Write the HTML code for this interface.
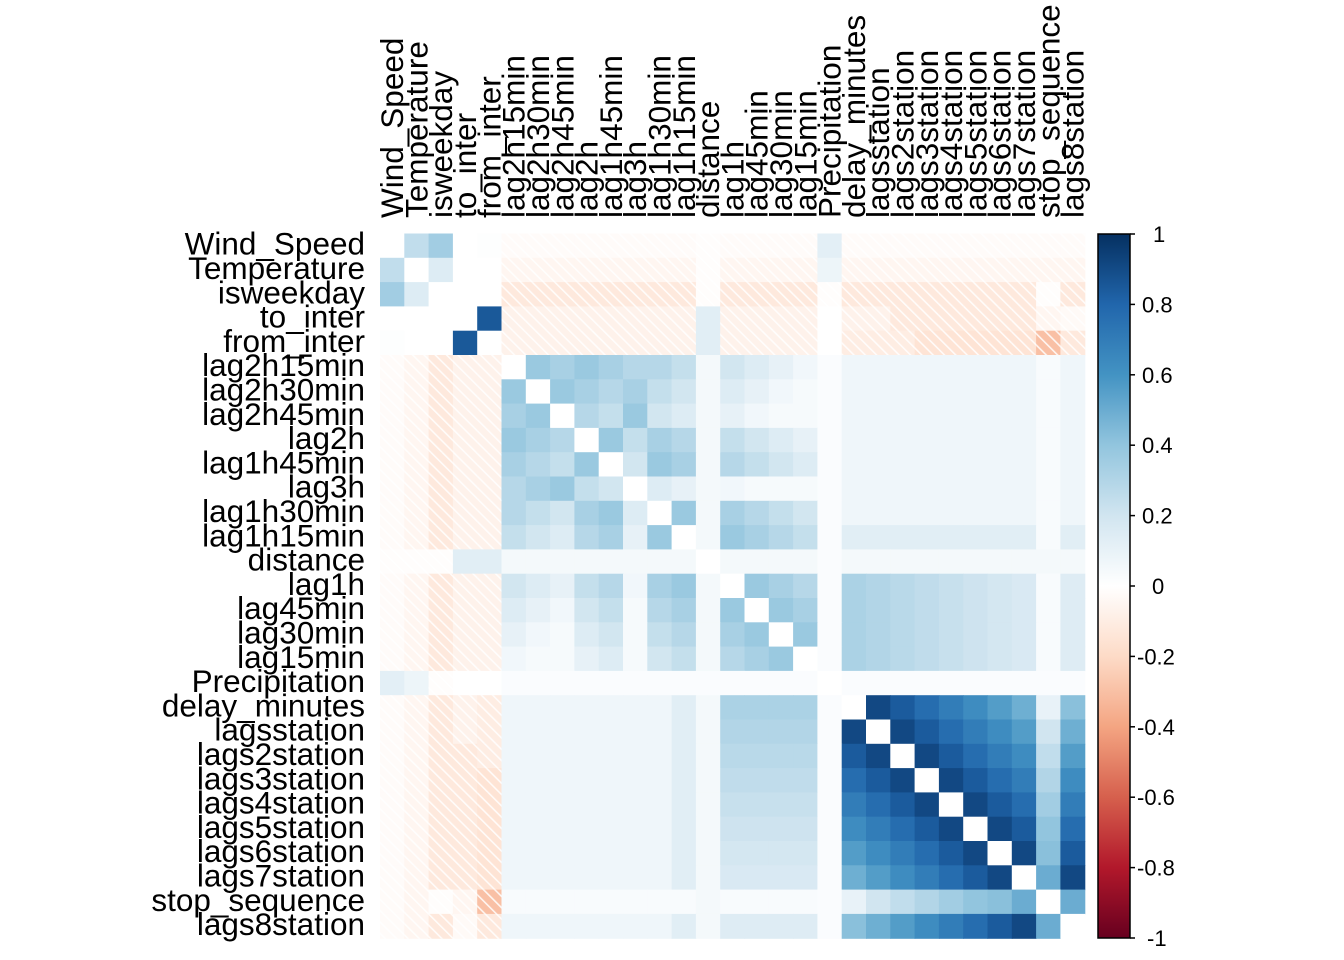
<!DOCTYPE html>
<html><head><meta charset="utf-8"><style>
html,body{margin:0;padding:0;background:#fff;}
svg{display:block;}
text{font-family:"Liberation Sans",Arial,sans-serif;}
</style></head><body>
<svg id="s" width="1344" height="960" xmlns="http://www.w3.org/2000/svg">
<defs>
<pattern id="h" patternUnits="userSpaceOnUse" width="8" height="8" patternTransform="rotate(-45)">
<rect x="0" y="0" width="1.6" height="8" fill="#fff" fill-opacity="0.85"/>
</pattern>
<linearGradient id="cb" x1="0" y1="0" x2="0" y2="1">
<stop offset="0" stop-color="#053061"/><stop offset="0.1" stop-color="#2166AC"/><stop offset="0.2" stop-color="#4393C3"/><stop offset="0.3" stop-color="#92C5DE"/><stop offset="0.4" stop-color="#D1E5F0"/><stop offset="0.5" stop-color="#FFFFFF"/><stop offset="0.6" stop-color="#FDDBC7"/><stop offset="0.7" stop-color="#F4A582"/><stop offset="0.8" stop-color="#D6604D"/><stop offset="0.9" stop-color="#B2182B"/><stop offset="1" stop-color="#67001F"/>
</linearGradient>
</defs>
<g id="g"></g>
<rect x="1098" y="234" width="32" height="704" fill="url(#cb)" stroke="#000" stroke-width="1.5"/>
<g id="cbl" font-size="22"></g>
</svg>
<script>
var names=["Wind_Speed","Temperature","isweekday","to_inter","from_inter","lag2h15min","lag2h30min","lag2h45min","lag2h","lag1h45min","lag3h","lag1h30min","lag1h15min","distance","lag1h","lag45min","lag30min","lag15min","Precipitation","delay_minutes","lagsstation","lags2station","lags3station","lags4station","lags5station","lags6station","lags7station","stop_sequence","lags8station"];
var N=29,L=380,T=233.5,C=24.3;
var tmin={5:135,6:150,7:165,8:120,9:105,10:180,11:90,12:75,14:60,15:45,16:30,17:15};
var stk={19:0,20:1,21:2,22:3,23:4,24:5,25:6,26:7,28:8};
var ss={19:0.1,20:0.2,21:0.25,22:0.3,23:0.35,24:0.4,25:0.42,26:0.5,28:0.5};
function isLag(i){return tmin[i]!==undefined;}
function isSt(i){return stk[i]!==undefined;}
function v(i,j){
 if(i>j){var t=i;i=j;j=t;}
 if(i==j)return 0;
 if(i==0){if(j==1)return .25;if(j==2)return .35;if(j==3)return 0;if(j==4)return .01;if(j==13)return -.01;if(j==18)return .12;return -.02;}
 if(i==1){if(j==2)return .15;if(j<5)return 0;if(j==13)return -.01;if(j==18)return .08;return -.05;}
 if(i==2){if(j<5)return 0;if(j==13||j==18||j==27)return -.01;return -.12;}
 if(i==3){if(j==4)return .85;if(j==13)return .13;if(j==18)return 0;if(j==27)return -.05;if(j==28)return -.03;if(j>=21&&j<=26)return -.12;return -.07;}
 if(i==4){if(j==13)return .13;if(j==18)return 0;if(j==27)return -.3;if(j==28)return -.12;if(j>=22&&j<=26)return -.15;if(j>=19)return -.1;return -.07;}
 if(j==18||i==18)return .02;
 if(i==13||j==13)return .05;
 if(isLag(i)&&isLag(j)){var d=Math.abs(tmin[i]-tmin[j]);return Math.max(.42-.003*d,.04);}
 if(isLag(i)&&isSt(j)){var base=tmin[i]>=90?.07:(tmin[i]==75?.13:.32);var k=stk[j];if(tmin[i]<=60){return Math.max(base-.022*k,.08);}return base;}
 if(isLag(i)&&j==27)return .03;
 if(isSt(i)&&isSt(j)){return .98-.07*Math.abs(stk[i]-stk[j]);}
 if(j==27)return ss[i];
 if(i==27)return ss[j];
 return 0;
}
var cols=["#053061","#2166AC","#4393C3","#92C5DE","#D1E5F0","#FFFFFF","#FDDBC7","#F4A582","#D6604D","#B2182B","#67001F"];
function hx(c){return [parseInt(c.substr(1,2),16),parseInt(c.substr(3,2),16),parseInt(c.substr(5,2),16)];}
function col(x){var p=(1-x)/2*10;var a=Math.min(Math.floor(p),9);var f=p-a;var c1=hx(cols[a]),c2=hx(cols[a+1]);
 return "rgb("+c1.map(function(u,k){return Math.round(u+(c2[k]-u)*f);}).join(",")+")";}
var s="";
for(var i=0;i<N;i++)for(var j=0;j<N;j++){
 var x=L+j*C,y=T+i*C,val=v(i,j);
 s+='<rect x="'+x.toFixed(2)+'" y="'+y.toFixed(2)+'" width="'+(C+.6).toFixed(2)+'" height="'+(C+.6).toFixed(2)+'" fill="'+(i==j?"#fff":col(val))+'"/>';
 if(val<0&&i!=j)s+='<rect x="'+x.toFixed(2)+'" y="'+y.toFixed(2)+'" width="'+(C+.6).toFixed(2)+'" height="'+(C+.6).toFixed(2)+'" fill="url(#h)"/>';
}
for(var i=0;i<N;i++){
 s+='<text x="365" y="'+(T+i*C+C/2+9).toFixed(1)+'" font-size="31.5" text-anchor="end">'+names[i]+'</text>';
 var cx=L+i*C+C/2+11;
 s+='<text transform="translate('+cx.toFixed(1)+',218) rotate(-90)" font-size="31.5">'+names[i]+'</text>';
}
document.getElementById("g").innerHTML=s;
var lb=[[1,"1",1153],[.8,"0.8",1142],[.6,"0.6",1142],[.4,"0.4",1142],[.2,"0.2",1142],[0,"0",1152],[-.2,"-0.2",1137],[-.4,"-0.4",1137],[-.6,"-0.6",1137],[-.8,"-0.8",1137],[-1,"-1",1147]];
var t="";
lb.forEach(function(a){var y=234+(1-a[0])/2*704;
 t+='<line x1="1130" x2="1135" y1="'+y+'" y2="'+y+'" stroke="#000" stroke-width="1.5"/>';
 t+='<text x="'+a[2]+'" y="'+(y+8)+'">'+a[1]+'</text>';});
document.getElementById("cbl").innerHTML=t;
</script>
</body></html>
